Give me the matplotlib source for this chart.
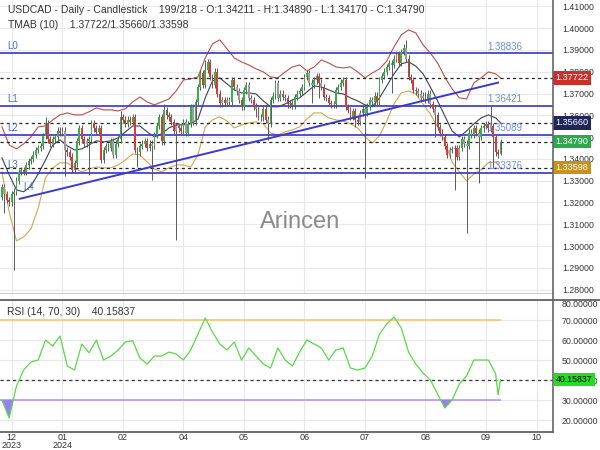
import matplotlib
matplotlib.use("Agg")
import matplotlib.pyplot as plt
import matplotlib.transforms as mtransforms
from matplotlib.lines import Line2D
import numpy as np

plt.rcParams['font.family'] = ['Liberation Sans', 'DejaVu Sans']

# daily closes, bar 0 .. 206
closes = [
    1.3270, 1.3240, 1.3212, 1.3200, 1.3240, 1.3250, 1.3300, 1.3340, 1.3350, 1.3340,
    1.3370, 1.3390, 1.3400, 1.3420, 1.3440, 1.3450, 1.3460, 1.3505, 1.3565, 1.3490,
    1.3470, 1.3490, 1.3500, 1.3530, 1.3520, 1.3530, 1.3440, 1.3430, 1.3410, 1.3350,
    1.3380, 1.3480, 1.3540, 1.3490, 1.3470, 1.3480, 1.3490, 1.3565, 1.3540, 1.3525,
    1.3540, 1.3395, 1.3440, 1.3460, 1.3450, 1.3480, 1.3420, 1.3470, 1.3490, 1.3593,
    1.3580, 1.3560, 1.3580, 1.3570, 1.3590, 1.3440, 1.3430, 1.3460, 1.3470, 1.3480,
    1.3450, 1.3470, 1.3460, 1.3510, 1.3550, 1.3590, 1.3480, 1.3625, 1.3600, 1.3590,
    1.3570, 1.3530, 1.3550, 1.3540, 1.3530, 1.3570, 1.3520, 1.3560, 1.3639, 1.3570,
    1.3660, 1.3730, 1.3795, 1.3740, 1.3810, 1.3845, 1.3776, 1.3740, 1.3800, 1.3700,
    1.3655, 1.3670, 1.3657, 1.3670, 1.3660, 1.3762, 1.3730, 1.3710, 1.3670, 1.3639,
    1.3715, 1.3740, 1.3680, 1.3670, 1.3640, 1.3630, 1.3593, 1.3590, 1.3630, 1.3580,
    1.3560, 1.3671, 1.3690, 1.3749, 1.3680, 1.3700, 1.3685, 1.3680, 1.3650, 1.3657,
    1.3645, 1.3685, 1.3700, 1.3710, 1.3730, 1.3776, 1.3795, 1.3750, 1.3740, 1.3760,
    1.3780, 1.3750, 1.3730, 1.3685, 1.3680, 1.3657, 1.3650, 1.3650, 1.3717, 1.3730,
    1.3750, 1.3760, 1.3639, 1.3625, 1.3593, 1.3620, 1.3580, 1.3570, 1.3610, 1.3630,
    1.3610, 1.3640, 1.3670, 1.3660, 1.3690, 1.3660, 1.3762, 1.3780, 1.3800, 1.3822,
    1.3840, 1.3830, 1.3860, 1.3880, 1.3840, 1.3890, 1.3910, 1.3860, 1.3776, 1.3762,
    1.3717, 1.3710, 1.3700, 1.3680, 1.3690, 1.3670, 1.3700, 1.3650, 1.3630, 1.3600,
    1.3547, 1.3520, 1.3500, 1.3460, 1.3420, 1.3440, 1.3445, 1.3450, 1.3410, 1.3450,
    1.3490, 1.3470, 1.3460, 1.3520, 1.3510, 1.3540, 1.3520, 1.3500, 1.3540, 1.3550,
    1.3560, 1.3540, 1.3550, 1.3500, 1.3430, 1.34211, 1.34790]
first_open = 1.3226

gray_bars = [1, 26, 35, 46, 62, 72, 76, 79, 91, 93, 94, 97, 98, 102, 103, 105, 107,
             110, 114, 117, 127, 128, 132, 134, 137, 148, 150, 153, 161, 167, 172,
             173, 174, 177, 179, 185, 187, 189, 191, 192, 194, 197, 202]

# long wicks
high_bars = [18, 49, 67, 84, 167, 202, 206]
high_vals = [1.3590, 1.3620, 1.3650, 1.3854, 1.3946, 1.3643, 1.34890]
low_bars = [1, 5, 26, 36, 56, 62, 72, 105, 110, 128, 131, 146, 150, 161, 179,
            187, 192, 197, 203, 206]
low_vals = [1.3152, 1.2890, 1.3320, 1.3325, 1.3363, 1.3304, 1.3028, 1.3593, 1.3487,
            1.3657, 1.3680, 1.3547, 1.3313, 1.3703, 1.3501, 1.3258, 1.3060, 1.3290,
            1.3360, 1.34170]

# TMAB (10) bands, every third bar
band_bars = list(range(0, 205, 3)) + [206]
tma_mid = [
    1.3405, 1.3327, 1.3258, 1.3249, 1.3276, 1.3331, 1.3395, 1.3464, 1.3487, 1.3460,
    1.3441, 1.3446, 1.3464, 1.3483, 1.3478, 1.3483, 1.3496, 1.3524, 1.3551, 1.3551,
    1.3524, 1.3501, 1.3515, 1.3542, 1.3556, 1.3556, 1.3561, 1.3583, 1.3680, 1.3758,
    1.3772, 1.3744, 1.3717, 1.3703, 1.3703, 1.3698, 1.3666, 1.3639, 1.3639, 1.3652,
    1.3671, 1.3680, 1.3707, 1.3735, 1.3730, 1.3717, 1.3703, 1.3698, 1.3680, 1.3666,
    1.3648, 1.3639, 1.3680, 1.3735, 1.3790, 1.3836, 1.3845, 1.3826, 1.3790, 1.3730,
    1.3666, 1.3597, 1.3528, 1.3501, 1.3528, 1.3561, 1.3588, 1.3602, 1.3588, 1.35660]
tma_upper = [
    1.3547, 1.3464, 1.3446, 1.3469, 1.3501, 1.3547, 1.3551, 1.3579, 1.3602, 1.3611,
    1.3602, 1.3602, 1.3616, 1.3634, 1.3625, 1.3625, 1.3620, 1.3630, 1.3661, 1.3684,
    1.3661, 1.3648, 1.3661, 1.3675, 1.3712, 1.3762, 1.3767, 1.3776, 1.3863, 1.3928,
    1.3946, 1.3905, 1.3863, 1.3845, 1.3831, 1.3813, 1.3799, 1.3776, 1.3772, 1.3799,
    1.3822, 1.3831, 1.3804, 1.3822, 1.3854, 1.3840, 1.3822, 1.3817, 1.3822, 1.3799,
    1.3772, 1.3794, 1.3813, 1.3849, 1.3914, 1.3969, 1.3992, 1.3978, 1.3923, 1.3886,
    1.3840, 1.3776, 1.3721, 1.3680, 1.3675, 1.3749, 1.3772, 1.3799, 1.3790, 1.37722]
tma_lower = [
    1.3340, 1.3157, 1.3024, 1.3042, 1.3079, 1.3175, 1.3313, 1.3359, 1.3382, 1.3382,
    1.3359, 1.3340, 1.3354, 1.3363, 1.3359, 1.3359, 1.3372, 1.3395, 1.3423, 1.3418,
    1.3386, 1.3354, 1.3340, 1.3359, 1.3372, 1.3372, 1.3363, 1.3418, 1.3547, 1.3579,
    1.3593, 1.3574, 1.3542, 1.3556, 1.3565, 1.3570, 1.3561, 1.3519, 1.3510, 1.3524,
    1.3533, 1.3547, 1.3583, 1.3611, 1.3611, 1.3588, 1.3579, 1.3574, 1.3561, 1.3542,
    1.3501, 1.3473, 1.3506, 1.3574, 1.3652, 1.3703, 1.3712, 1.3698, 1.3652, 1.3606,
    1.3547, 1.3478, 1.3386, 1.3340, 1.3299, 1.3331, 1.3350, 1.3382, 1.3386, 1.33598]

# RSI (14)
rsi_bars = list(range(0, 205, 3)) + [205, 206]
rsi_vals = [
    30, 21, 37, 45, 49, 50, 60, 57, 62, 47,
    45, 58, 53.6, 60, 50, 52, 55, 59, 59.6, 51,
    48, 52, 52, 54, 53, 50, 55, 63, 71, 64,
    58, 55, 59, 50, 56, 52, 48, 46, 56, 50,
    47, 54, 60, 58, 56, 50, 55, 56, 46, 45,
    46, 52, 63, 68, 71.5, 66, 54, 48, 43.5, 40,
    33, 26, 30, 38, 42, 50, 50, 50, 43, 32.5, 40.15837]

levels = [1.38836, 1.36421, 1.35089, 1.33376]
level_names = ['L0', 'L1', 'L2', 'L3']
trend_bars = [7.4, 205]
trend_prices = [1.3217, 1.3750]

tag_prices = [1.37722, 1.35660, 1.34790, 1.33598]
tag_colors = ['#c9302c', '#1e2758', '#2ea84f', '#c8911a']

month_ticks = [4, 25, 50, 75, 100, 125, 150, 175, 200, 221]
month_labels = ['12\n2023', '01\n2024', '02', '04', '05', '06', '07', '08', '09', '10']
price_ticks = [1.28, 1.29, 1.30, 1.31, 1.32, 1.33, 1.34, 1.35, 1.36, 1.37, 1.38, 1.39, 1.40, 1.41]
rsi_ticks = [20, 30, 40, 50, 60, 70, 80]

fig = plt.figure(figsize=(6, 4.5), dpi=100)
ax = fig.add_axes([0, 0.349, 0.9217, 0.651])
ax2 = fig.add_axes([0, 0.04, 0.9217, 0.2933], sharex=ax)

# candles
closes_a = np.array(closes)
opens_a = np.array([first_open] + closes[:-1])
highs = np.maximum(opens_a, closes_a) + 0.0015
lows = np.minimum(opens_a, closes_a) - 0.0015
highs[high_bars] = high_vals
lows[low_bars] = low_vals
bars = np.arange(len(closes))
colors = np.where(closes_a >= opens_a, '#3bb04a', '#d93a35')
colors[gray_bars] = '#9c9c9c'

ax.vlines(bars, lows, highs, color='#5a5a5a', lw=0.7, zorder=3)
body = np.maximum(np.abs(closes_a - opens_a), 0.0004)
ax.bar(bars, body, bottom=np.minimum(opens_a, closes_a), width=0.75,
       color=colors, zorder=4, linewidth=0)

# bands
ax.plot(band_bars, tma_upper, color='#b8504c', lw=0.8, zorder=2)
ax.plot(band_bars, tma_mid, color='#3b4257', lw=0.8, zorder=2)
ax.plot(band_bars, tma_lower, color='#d2a650', lw=0.8, zorder=2)

# levels
for p, name in zip(levels, level_names):
    ax.axhline(p, color='#3535c4', lw=1.2, zorder=2)
    ax.text(2, p + 0.0012, name, color='#4d6fd2', fontsize=7, va='bottom', ha='left')
    ax.text(200.5, p + 0.0008, '%.5f' % p, color='#6d8ee0', fontsize=7, va='bottom', ha='left', zorder=6)
ax.text(9, 1.3250, 'L4', color='#4d6fd2', fontsize=7, va='bottom', ha='left')
ax.plot(trend_bars, trend_prices, color='#3a3ad2', lw=1.4, zorder=5)

for p in tag_prices:
    ax.axhline(p, color='#222222', lw=0.9, ls=(0, (2.5, 2.5)), zorder=2)

trans = mtransforms.blended_transform_factory(ax.transAxes, ax.transData)
for p, c in zip(tag_prices, tag_colors):
    ax.text(1.005, p, '%.5f' % p, transform=trans, color='white', fontsize=6.6,
            va='center', ha='left', zorder=10, clip_on=False,
            bbox=dict(boxstyle='square,pad=0.25', fc=c, ec='none'))

ax.text(0.5425, 0.242, 'Arincen', transform=ax.transAxes, fontsize=17,
        color='#8a8a8a', ha='center', va='center', zorder=1)

ax.set_xlim(-0.8, 227.7)
ax.set_ylim(1.2785, 1.4129)
ax.set_yticks(price_ticks)
ax.set_yticklabels(['%.5f' % v for v in price_ticks])
ax.yaxis.tick_right()
ax.tick_params(axis='y', length=0, pad=7, labelsize=6.3, labelcolor='#333333')
ax.set_xticks(month_ticks)
ax.tick_params(axis='x', length=0, labelbottom=False)
ax.grid(True, color='#e8e8e8', lw=0.8, zorder=0)
ax.set_axisbelow(True)
for s in ['left', 'top', 'right']:
    ax.spines[s].set_visible(False)
ax.spines['bottom'].set_color('#cccccc')

# RSI panel
rsi_a = np.array(rsi_vals, dtype=float)
ax2.hlines(70, -0.8, 206, color='#f7c66e', lw=1.2, zorder=2)
ax2.hlines(30, -0.8, 206, color='#b896f2', lw=1.2, zorder=2)
ax2.axhline(rsi_vals[-1], color='#333333', lw=0.9, ls=(0, (2.5, 2.5)), zorder=2)
ax2.fill_between(rsi_bars, rsi_a, 30, where=rsi_a < 30, interpolate=True,
                 color='#9b7ff0', lw=0, zorder=3)
ax2.plot(rsi_bars, rsi_a, color='#5ad84a', lw=0.9, zorder=4)
ax2.text(0.013, 0.91, 'RSI (14, 70, 30)    %.5f' % rsi_vals[-1], transform=ax2.transAxes,
         fontsize=7.5, color='#333333', va='center')
trans2 = mtransforms.blended_transform_factory(ax2.transAxes, ax2.transData)
ax2.text(1.005, rsi_vals[-1], '%.5f' % rsi_vals[-1], transform=trans2, color='black',
         fontsize=6.3, va='center', ha='left', zorder=10, clip_on=False,
         bbox=dict(boxstyle='square,pad=0.25', fc='#22dd22', ec='none'))

ax2.set_ylim(14, 80)
ax2.set_yticks(rsi_ticks)
ax2.set_yticklabels(['%.5f' % v for v in rsi_ticks])
ax2.yaxis.tick_right()
ax2.tick_params(axis='y', length=0, pad=6, labelsize=6.3, labelcolor='#333333')
for lbl in ax2.get_yticklabels():
    if lbl.get_text() == '80.00000':
        lbl.set_va('top')
ax2.set_xticks(month_ticks)
ax2.set_xticklabels(month_labels, linespacing=0.85)
ax2.tick_params(axis='x', length=0, pad=1, labelsize=6.5, labelcolor='#333333')
ax2.grid(True, color='#e8e8e8', lw=0.8, zorder=0)
ax2.set_axisbelow(True)
for s in ['left', 'top', 'right']:
    ax2.spines[s].set_visible(False)
ax2.spines['bottom'].set_color('#555555')
ax2.spines['bottom'].set_linewidth(1.2)

# panel frame lines
fig.add_artist(Line2D([0, 1], [0.3333, 0.3333], color='#555555', lw=1.2))
fig.add_artist(Line2D([0.9217, 0.9217], [0.04, 1.0], color='#666666', lw=1.2))

fig.text(0.013, 0.977, 'USDCAD - Daily - Candlestick    199/218 - O:1.34211 - H:1.34890 - L:1.34170 - C:1.34790',
         fontsize=7.5, color='#333333', va='center')
fig.text(0.013, 0.944, 'TMAB (10)    1.37722/1.35660/1.33598',
         fontsize=7.5, color='#333333', va='center')

fig.savefig('out.png', dpi=100)
